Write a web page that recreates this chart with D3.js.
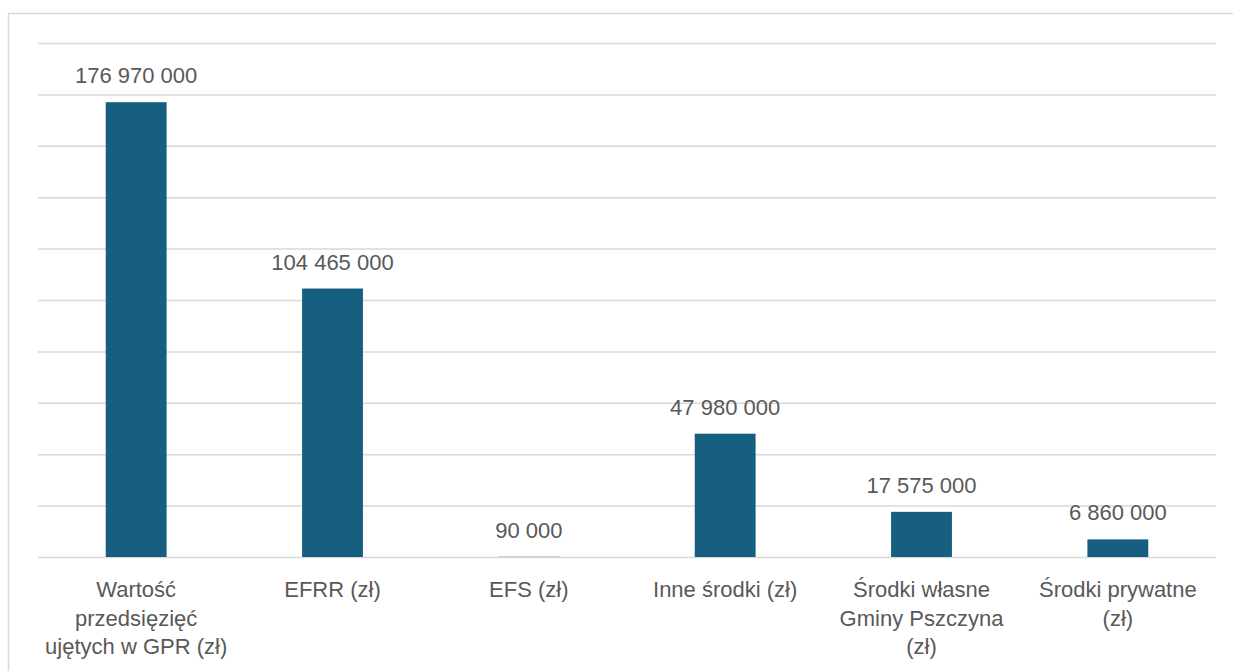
<!DOCTYPE html>
<html>
<head>
<meta charset="utf-8">
<script src="https://cdn.jsdelivr.net/npm/d3@7"></script>
<style>
  html, body { margin: 0; padding: 0; background: #ffffff; }
  svg { display: block; }
  text { font-family: "Liberation Sans", Arial, sans-serif; fill: #595959; }
</style>
</head>
<body>
<svg id="chart" width="1233" height="671"></svg>
<script>
// Funding sources of the revitalisation programme (PLN); "\n" marks a line break
const categories = [
  "Wartość\nprzedsięzięć\nujętych w GPR (zł)",
  "EFRR (zł)",
  "EFS (zł)",
  "Inne środki (zł)",
  "Środki własne\nGminy Pszczyna\n(zł)",
  "Środki prywatne\n(zł)"
];
const values = [176970000, 104465000, 90000, 47980000, 17575000, 6860000];
const yTicks = [0, 20000000, 40000000, 60000000, 80000000, 100000000,
                120000000, 140000000, 160000000, 180000000, 200000000];

const width = 1233, height = 671;
const margin = { top: 43, right: 17, bottom: 114, left: 38 };
const svg = d3.select("#chart");

// outer chart frame
svg.append("rect")
  .attr("x", 8.5).attr("y", 13.5)
  .attr("width", width + 20).attr("height", height + 20)
  .attr("fill", "none").attr("stroke", "#d9d9d9").attr("stroke-width", 1.5);

const x = d3.scaleBand()
  .domain(categories)
  .range([margin.left, width - margin.right])
  .paddingInner(0.69).paddingOuter(0.345);

const y = d3.scaleLinear()
  .domain([0, 200000000])
  .range([height - margin.bottom, margin.top]);

// horizontal gridlines
const gridAxis = d3.axisLeft(y)
  .tickValues(yTicks)
  .tickSize(-(width - margin.left - margin.right))
  .tickFormat("");
const grid = svg.append("g")
  .attr("transform", `translate(${margin.left},0)`)
  .call(gridAxis);
grid.select(".domain").remove();
grid.selectAll(".tick line").attr("stroke", "#d9d9d9").attr("stroke-width", 1.5);

// bars
svg.append("g").selectAll("rect")
  .data(values)
  .join("rect")
  .attr("x", (d, i) => x(categories[i]))
  .attr("y", d => y(d))
  .attr("width", x.bandwidth())
  .attr("height", d => y(0) - y(d))
  .attr("fill", "#175f80");

// value labels
const fmt = v => d3.format(",")(v).replace(/,/g, " ");
svg.append("g").selectAll("text")
  .data(values)
  .join("text")
  .attr("x", (d, i) => x(categories[i]) + x.bandwidth() / 2)
  .attr("y", d => y(d) - 19)
  .attr("text-anchor", "middle")
  .attr("font-size", 22)
  .text(d => fmt(d));

// category axis labels, one tspan per line
const xAxis = d3.axisBottom(x).tickSize(0).tickPadding(0);
const xg = svg.append("g")
  .attr("transform", `translate(0,${y(0)})`)
  .call(xAxis);
xg.select(".domain").remove();
xg.selectAll(".tick text")
  .attr("font-size", 22)
  .attr("font-family", "Liberation Sans, Arial, sans-serif")
  .attr("fill", "#595959")
  .attr("dy", null)
  .attr("y", 0)
  .each(function (d) {
    const t = d3.select(this).text(null);
    d.split("\n").forEach((line, i) => {
      t.append("tspan").attr("x", 0).attr("y", 40 + i * 28.5).text(line);
    });
  });
</script>
</body>
</html>
